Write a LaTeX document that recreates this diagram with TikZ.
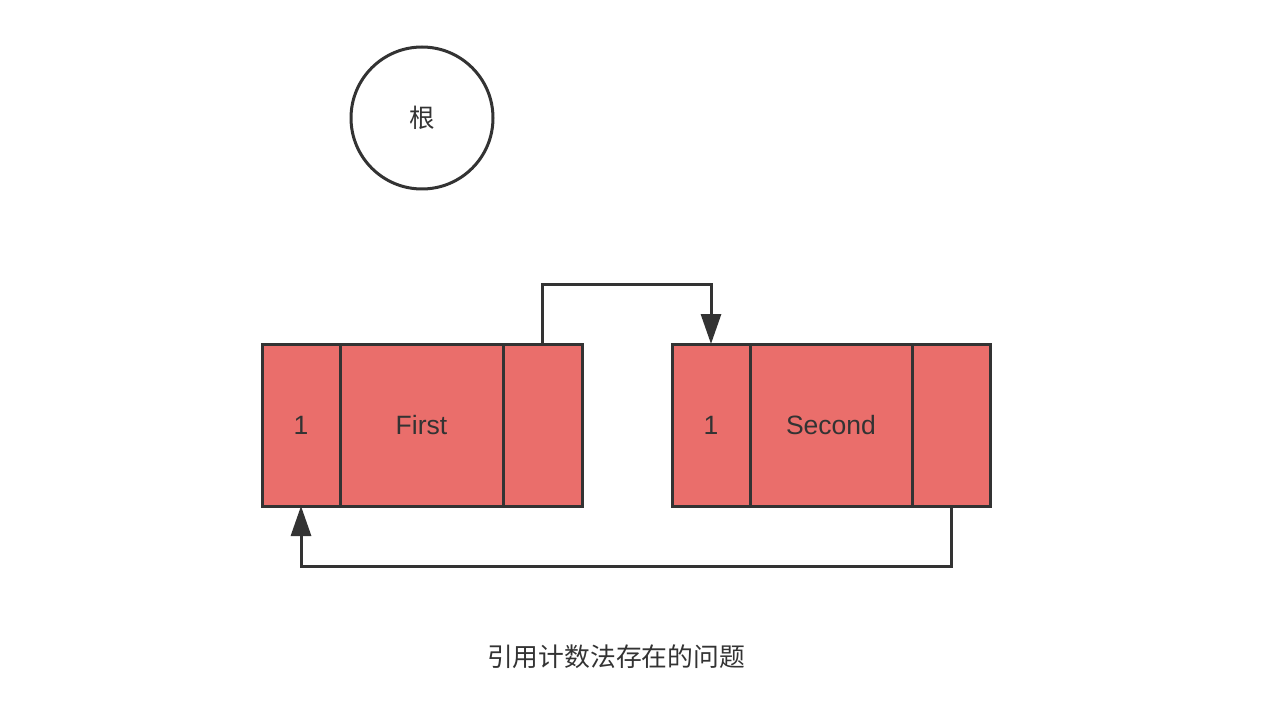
\documentclass[tikz,border=0pt]{standalone}
\usepackage{fontspec}
\setmainfont{Liberation Sans}
\newfontfamily\cjk{Noto Sans CJK SC}
\usetikzlibrary{arrows.meta}
\definecolor{cellred}{HTML}{EA6E6B}
\definecolor{ink}{HTML}{333333}
\tikzset{
  cell/.style={draw=ink, fill=cellred, line width=3pt, inner sep=0pt, outer sep=0pt,
    minimum height=162pt, text=ink, font=\fontsize{26.5}{30}\selectfont},
  conn/.style={draw=ink, line width=3pt, -{Triangle[width=20pt,length=30pt]}},
}
\begin{document}
\begin{tikzpicture}[x=1pt,y=-1pt]
\useasboundingbox[fill=white] (0,0) rectangle (1264,722);
% root
\node[circle, draw=ink, line width=3pt, minimum size=142pt, inner sep=0pt, text=ink,
  font=\cjk\fontsize{25.5}{30}\selectfont] (root) at (422,118) {根};
% first object
\node[cell, minimum width=78pt]  (f1) at (301,425) {1};
\node[cell, minimum width=163pt] (f2) at (421.5,425) {First};
\node[cell, minimum width=79pt]  (f3) at (542.5,425) {};
% second object
\node[cell, minimum width=78pt]  (s1) at (711,425) {1};
\node[cell, minimum width=162pt] (s2) at (831,425) {Second};
\node[cell, minimum width=78pt]  (s3) at (951,425) {};
% connectors
\draw[conn] (f3.north) -- ++(0,-60) -| (s1.north);
\draw[conn] (s3.south) -- ++(0,60) -| (f1.south);
% caption
\node[text=ink, font=\cjk\fontsize{25.8}{30}\selectfont] (cap) at (616,657) {引用计数法存在的问题};
\end{tikzpicture}
\end{document}
